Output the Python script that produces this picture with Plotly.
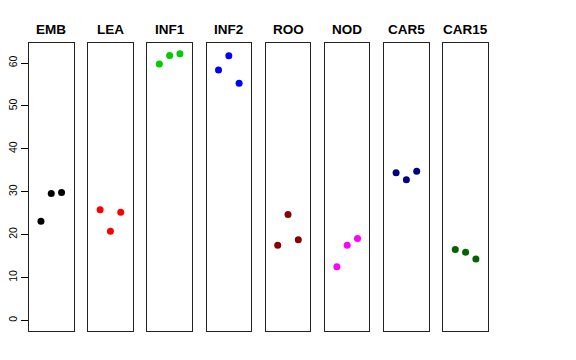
import plotly.graph_objects as go

groups = ["EMB", "LEA", "INF1", "INF2", "ROO", "NOD", "CAR5", "CAR15"]
colors = ["#000000", "#FF0000", "#00CD00", "#0000FF", "#8B0000", "#FF00FF", "#000080", "#006400"]
rep = [1, 2, 3]
emb = [23.1, 29.6, 29.8]
lea = [25.8, 20.8, 25.2]
inf1 = [59.8, 61.8, 62.2]
inf2 = [58.4, 61.7, 55.3]
roo = [17.5, 24.7, 18.8]
nod = [12.5, 17.5, 19.1]
car5 = [34.4, 32.8, 34.8]
car15 = [16.5, 15.9, 14.3]
values = [emb, lea, inf1, inf2, roo, nod, car5, car15]
y_ticks = [0, 10, 20, 30, 40, 50, 60]

W, H = 576, 360
ml, mr, mt, mb = 29, 88, 43, 29
plot_w = W - ml - mr
step = 59.19
pw = 44.5

fig = go.Figure()
ymax = max(max(v) for v in values)
pad = ymax * 0.04
yr = [0 - pad, ymax + pad]

for i, (g, c, v) in enumerate(zip(groups, colors, values)):
    n = "" if i == 0 else str(i + 1)
    x0 = (step * i) / plot_w
    x1 = min((step * i + pw) / plot_w, 1)
    fig.add_trace(go.Scatter(
        x=rep, y=v, mode="markers",
        marker=dict(color=c, size=7, line=dict(width=0)),
        xaxis="x" + n, yaxis="y" + n, showlegend=False, hoverinfo="skip"))
    fig.layout["xaxis" + n] = dict(
        domain=[x0, x1], range=[-0.16, 4.16], showgrid=False, zeroline=False,
        showticklabels=False, ticks="", showline=True, mirror=True,
        linecolor="#222222", linewidth=1, anchor="y" + n, fixedrange=True,
        automargin=False)
    ya = dict(domain=[0, 1], range=yr, showgrid=False, zeroline=False,
              showline=True, mirror=True, linecolor="#222222", linewidth=1,
              anchor="x" + n, fixedrange=True, automargin=False)
    if i == 0:
        ya.update(tickvals=y_ticks, ticktext=[str(t) for t in y_ticks], ticks="outside",
                  ticklen=7, tickcolor="#000000", tickangle=-90,
                  tickfont=dict(size=10.5, color="#000000"))
    else:
        ya.update(showticklabels=False, ticks="")
    fig.layout["yaxis" + n] = ya
    fig.add_annotation(x=(x0 + x1) / 2, y=1, xref="paper", yref="paper",
                       xanchor="center", yanchor="bottom", yshift=4,
                       text="<b>" + g + "</b>",
                       showarrow=False, font=dict(size=13.5, color="#000000"))

fig.update_layout(width=W, height=H, margin=dict(l=ml, r=mr, t=mt, b=mb),
                  plot_bgcolor="white", paper_bgcolor="white",
                  font=dict(family="Liberation Sans, Arial, sans-serif"))
fig.write_html("out.html", config={"displayModeBar": False},
               post_script="document.body.style.margin='0';")
